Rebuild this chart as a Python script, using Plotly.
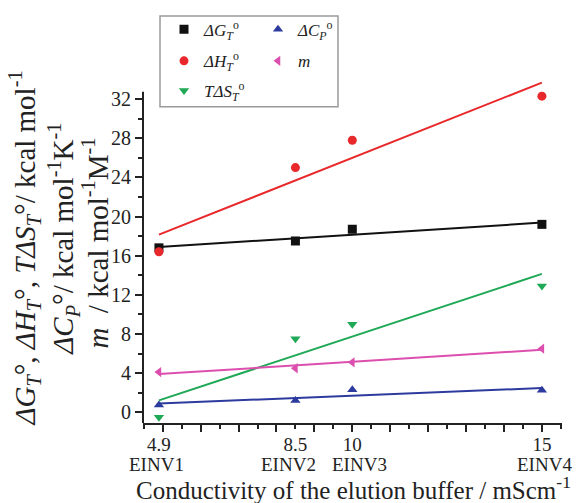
import numpy as np
import plotly.graph_objects as go

# ---- data ----
conductivity = [4.9, 8.5, 10, 15]
buffer_names = ["EINV1", "EINV2", "EINV3", "EINV4"]
dG = [16.8, 17.5, 18.7, 19.2]
dH = [16.4, 25.0, 27.8, 32.3]
TdS = [-0.5, 7.5, 9.0, 12.9]
dCp = [0.75, 1.2, 2.3, 2.25]
m_vals = [4.1, 4.5, 5.1, 6.5]

y_ticks = [0, 4, 8, 12, 16, 20, 24, 28, 32]
x_major_ticks = list(range(5, 16))
x_minor_ticks = [v + 0.5 for v in range(4, 16)]

FONT = "Liberation Serif"
INK = "#222222"

series = [
    # name, values, color, symbol, legend id
    ("<i>ΔG</i><sub><i>T</i></sub><sup>o</sup>", dG, "#111111", "square", "legend"),
    ("<i>ΔH</i><sub><i>T</i></sub><sup>o</sup>", dH, "#e8282b", "circle", "legend2"),
    ("<i>TΔS</i><sub><i>T</i></sub><sup>o</sup>", TdS, "#1fa855", "triangle-down", "legend3"),
    ("<i>ΔC</i><sub><i>P</i></sub><sup>o</sup>", dCp, "#2d3a9e", "triangle-up", "legend4"),
    ("<i>m</i>", m_vals, "#dc4fae", "triangle-left", "legend5"),
]

fig = go.Figure()
x_arr = np.array(conductivity, dtype=float)
for name, vals, color, symbol, leg in series:
    slope, icpt = np.polyfit(x_arr, np.array(vals, dtype=float), 1)
    fx = [conductivity[0], conductivity[-1]]
    fy = [slope * v + icpt for v in fx]
    fig.add_trace(go.Scatter(x=fx, y=fy, mode="lines",
                             line=dict(color=color, width=2),
                             showlegend=False, hoverinfo="skip"))
    fig.add_trace(go.Scatter(x=conductivity, y=vals, mode="markers", name=name,
                             marker=dict(color=color, symbol=symbol, size=9),
                             legend=leg, cliponaxis=False))

L, R, T, B = 143, 17, 76, 80
W, H = 579, 503
pw, ph = W - L - R, H - T - B

def px_x(px):
    return (px - L) / pw

def px_y(py):
    return (H - B - py) / ph

x_range = [4.48, 15.53]
y_range = [-1.1, 33.85]
y_axis_top = 32.75

fig.update_layout(
    width=W, height=H,
    margin=dict(l=L, r=R, t=T, b=B),
    paper_bgcolor="white", plot_bgcolor="white",
    font=dict(family=FONT, size=20, color=INK),
    xaxis=dict(range=x_range, showgrid=False, zeroline=False,
               showline=True, linecolor=INK, linewidth=2,
               tickvals=x_major_ticks, ticks="outside", ticklen=7, tickwidth=2,
               tickcolor=INK, showticklabels=False,
               minor=dict(tickvals=x_minor_ticks, ticks="outside", ticklen=4,
                          tickwidth=2, tickcolor=INK)),
    xaxis2=dict(range=x_range, overlaying="x", anchor="y", side="bottom",
                showgrid=False, zeroline=False, showline=False,
                tickvals=conductivity, ticktext=[f"{c:g}" for c in conductivity],
                ticks="outside", ticklen=4, tickcolor="rgba(0,0,0,0)", tickangle=0,
                tickfont=dict(family=FONT, size=19, color=INK)),
    yaxis=dict(range=y_range, showgrid=False, zeroline=False,
               showline=False,
               tickvals=y_ticks, ticks="outside", ticklen=7, tickwidth=2,
               tickcolor=INK,
               tickfont=dict(family=FONT, size=20, color=INK),
               minor=dict(dtick=2, tick0=0, ticks="outside", ticklen=4,
                          tickwidth=2, tickcolor=INK)),
    showlegend=True,
)

# dummy trace to activate the label axis
fig.add_trace(go.Scatter(x=[conductivity[0]], y=[None], xaxis="x2", showlegend=False,
                         hoverinfo="skip"))

# buffer names below the conductivity values
name_shift = [-2, -7, 7, 3]
for c, n, s in zip(conductivity, buffer_names, name_shift):
    fig.add_annotation(text=n, xref="x", yref="paper", x=c, y=px_y(465),
                       xshift=s, xanchor="center", yanchor="middle", showarrow=False,
                       font=dict(family=FONT, size=19, color=INK))

# y axis spine (stops just above the top tick, as in the reference)
fig.add_shape(type="line", xref="paper", yref="y", x0=0, x1=0,
              y0=y_range[0], y1=y_axis_top, line=dict(color=INK, width=2))

# legends (one per entry to mimic two-column layout)
sym_x = {"legend": 183, "legend2": 183, "legend3": 183, "legend4": 277, "legend5": 277}
row_y = {"legend": 24, "legend2": 56, "legend3": 86, "legend4": 24, "legend5": 56}
legend_layout = {}
for key in ["legend", "legend2", "legend3", "legend4", "legend5"]:
    legend_layout[key] = dict(
        x=px_x(sym_x[key] - 19), xanchor="left",
        y=px_y(row_y[key]), yanchor="middle",
        bgcolor="rgba(0,0,0,0)", borderwidth=0,
        font=dict(family=FONT, size=17, color=INK),
        itemwidth=30,
    )
fig.update_layout(**legend_layout)

fig.add_shape(type="rect", xref="paper", yref="paper",
              x0=px_x(160), x1=px_x(338), y0=px_y(102), y1=px_y(10),
              line=dict(color="#9a9a9a", width=1.5), fillcolor="white", layer="above")

ytitle_lines = [
    ("<i>ΔG</i><sub><i>T</i></sub>°, <i>ΔH</i><sub><i>T</i></sub>°, <i>TΔS</i><sub><i>T</i></sub>°/ kcal mol<sup>-1</sup>", 24, 246),
    ("<i>ΔC</i><sub><i>P</i></sub>°/ kcal mol<sup>-1</sup>K<sup>-1</sup>", 63, 236),
    ("<i>m</i>  / kcal mol<sup>-1</sup>M<sup>-1</sup>", 95, 241),
]
for txt, cx, cy in ytitle_lines:
    fig.add_annotation(text=txt, xref="paper", yref="paper",
                       x=px_x(cx), y=px_y(cy), xanchor="center", yanchor="middle",
                       textangle=-90, showarrow=False,
                       font=dict(family=FONT, size=29, color=INK))

fig.add_annotation(text="Conductivity of the elution buffer / mScm<sup>-1</sup>",
                   xref="paper", yref="paper", x=px_x(353), y=px_y(489),
                   xanchor="center", yanchor="middle", showarrow=False,
                   font=dict(family=FONT, size=25, color=INK))

fig.write_html("out.html")
